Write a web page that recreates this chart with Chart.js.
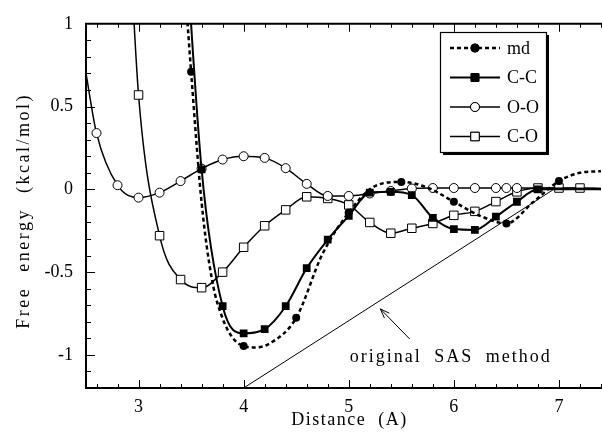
<!DOCTYPE html>
<html>
<head>
<meta charset="utf-8">
<script src="https://cdn.jsdelivr.net/npm/chart.js@4"></script>
<style>
  html, body { margin: 0; padding: 0; background: #fff; }
  #wrap { width: 602px; height: 432px; }
</style>
</head>
<body>
<div id="wrap"><canvas id="c"></canvas></div>
<script>
// tick labels
const xTicks = [3, 4, 5, 6, 7];
const yTicks = [-1, -0.5, 0, 0.5, 1];

// md (dashed, filled circles every 0.5 A)
const mdX = [3.4, 3.5, 3.6, 3.7, 3.8, 3.9, 4.0, 4.1, 4.25, 4.5, 4.75, 5.0, 5.25, 5.5, 5.75, 6.0, 6.25, 6.5, 6.75, 7.0, 7.2, 7.4];
const mdY = [1.6, 0.71, -0.08, -0.55, -0.78, -0.9, -0.947, -0.955, -0.93, -0.776, -0.39, -0.14, 0.02, 0.045, 0.01, -0.075, -0.16, -0.206, -0.08, 0.05, 0.1, 0.11];

// C-C (filled squares)
const ccX = [3.4, 3.6, 3.8, 4.0, 4.2, 4.4, 4.6, 4.8, 5.0, 5.2, 5.4, 5.6, 5.8, 6.0, 6.2, 6.4, 6.6, 6.8, 7.4];
const ccY = [2.0, 0.12, -0.706, -0.87, -0.845, -0.706, -0.476, -0.304, -0.16, -0.02, -0.015, -0.035, -0.172, -0.24, -0.245, -0.165, -0.075, 0.0, 0.0];

// O-O (open circles)
const ooX = [2.5, 2.6, 2.8, 3.0, 3.2, 3.4, 3.6, 3.8, 4.0, 4.2, 4.4, 4.6, 4.8, 5.0, 5.2, 5.4, 5.6, 5.8, 6.0, 6.2, 6.4, 6.5, 6.6, 7.4];
const ooY = [0.7, 0.34, 0.025, -0.05, -0.02, 0.05, 0.125, 0.18, 0.2, 0.19, 0.128, 0.033, -0.04, -0.04, -0.025, -0.01, 0.005, 0.008, 0.008, 0.008, 0.008, 0.008, 0.008, 0.005];

// C-O (open squares)
const coX = [2.9, 3.0, 3.2, 3.4, 3.6, 3.8, 4.0, 4.2, 4.4, 4.6, 4.8, 5.0, 5.2, 5.4, 5.6, 5.8, 6.0, 6.2, 6.4, 6.6, 6.8, 7.0, 7.2, 7.4];
const coY = [1.7, 0.57, -0.28, -0.545, -0.594, -0.5, -0.35, -0.22, -0.124, -0.045, -0.055, -0.094, -0.2, -0.265, -0.235, -0.206, -0.157, -0.133, -0.074, -0.015, 0.008, 0.008, 0.008, 0.005];

// original SAS method (straight line)
const sasX = [4.0, 6.95];
const sasY = [-1.2, 0];

// annotation: label + arrow pointing at the SAS line
const sasLabel = { text: 'original SAS method', x: 5.01, y: -1.04 };
const sasArrow = { fromX: 5.58, fromY: -0.904, toX: 5.3, toY: -0.722 };

const seriesNames = ['md', 'C-C', 'O-O', 'C-O'];

const SERIF = '"Liberation Serif", "DejaVu Serif", serif';

function pts(xs, ys) {
    return xs.map((x, i) => ({ x: x, y: ys[i] }));
}

// hide markers on the first/last helper points
function innerRadius(r) {
    return ctx => (ctx.dataIndex === 0 || ctx.dataIndex === ctx.dataset.data.length - 1) ? 0 : r;
}

const framePlugin = {
    id: 'frame',
    beforeDatasetsDraw(chart) {
        const { ctx, chartArea: a, scales } = chart;
        const xs = scales.x, ys = scales.y;
        ctx.save();
        ctx.strokeStyle = '#000';
        ctx.lineWidth = 2;
        ctx.beginPath();
        ctx.moveTo(a.left, a.top); ctx.lineTo(a.right + 2, a.top);
        ctx.moveTo(a.left, a.top - 1); ctx.lineTo(a.left, a.bottom + 1);
        ctx.moveTo(a.left, a.bottom); ctx.lineTo(a.right + 2, a.bottom);
        ctx.stroke();

        ctx.lineWidth = 1;
        ctx.beginPath();
        // x ticks (bottom and top), minor every 0.2
        for (let v = 2.6; v <= 7.41; v += 0.2) {
            const px = Math.round(xs.getPixelForValue(v)) + 0.5;
            const major = Math.abs(v - Math.round(v)) < 0.01;
            const len = major ? 8 : 4;
            ctx.moveTo(px, a.bottom); ctx.lineTo(px, a.bottom - len);
            ctx.moveTo(px, a.top); ctx.lineTo(px, a.top + len);
        }
        // y ticks, minor every 0.1
        for (let v = -1.1; v <= 0.95; v += 0.1) {
            const py = Math.round(ys.getPixelForValue(v)) + 0.5;
            const major = Math.abs(v * 2 - Math.round(v * 2)) < 0.01;
            const len = major ? 9 : 5;
            ctx.moveTo(a.left, py); ctx.lineTo(a.left + len, py);
        }
        ctx.stroke();

        // axis titles
        ctx.fillStyle = '#000';
        ctx.font = '18px ' + SERIF;
        ctx.letterSpacing = '1.5px';
        ctx.wordSpacing = '6px';
        ctx.textAlign = 'center';
        ctx.textBaseline = 'alphabetic';
        ctx.fillText('Distance (A)', (a.left + a.right) / 2 + 6, 425);
        ctx.save();
        ctx.translate(29, (a.top + a.bottom) / 2 + 5);
        ctx.rotate(-Math.PI / 2);
        ctx.letterSpacing = '2.5px';
        ctx.wordSpacing = '8px';
        ctx.fillText('Free energy (kcal/mol)', 0, 0);
        ctx.restore();
        ctx.restore();
    },
    afterDatasetsDraw(chart) {
        const { ctx, scales } = chart;
        const xs = scales.x, ys = scales.y;
        ctx.save();
        ctx.strokeStyle = '#000';
        ctx.fillStyle = '#000';

        // SAS annotation
        ctx.font = '18px ' + SERIF;
        ctx.letterSpacing = '2px';
        ctx.wordSpacing = '6px';
        ctx.textAlign = 'left';
        ctx.textBaseline = 'alphabetic';
        ctx.fillText(sasLabel.text, xs.getPixelForValue(sasLabel.x), ys.getPixelForValue(sasLabel.y));

        const fx = xs.getPixelForValue(sasArrow.fromX), fy = ys.getPixelForValue(sasArrow.fromY);
        const tx = xs.getPixelForValue(sasArrow.toX), ty = ys.getPixelForValue(sasArrow.toY);
        const ang = Math.atan2(ty - fy, tx - fx);
        ctx.lineWidth = 1;
        ctx.beginPath();
        ctx.moveTo(fx, fy); ctx.lineTo(tx, ty);
        ctx.moveTo(tx, ty); ctx.lineTo(tx - 10 * Math.cos(ang - 0.35), ty - 10 * Math.sin(ang - 0.35));
        ctx.moveTo(tx, ty); ctx.lineTo(tx - 10 * Math.cos(ang + 0.35), ty - 10 * Math.sin(ang + 0.35));
        ctx.stroke();

        // legend box with drop shadow
        const bx = 440, by = 32, bw = 106, bh = 120;
        ctx.fillRect(bx + 3, by + 3, bw, bh);
        ctx.fillStyle = '#fff';
        ctx.fillRect(bx, by, bw, bh);
        ctx.lineWidth = 1.2;
        ctx.strokeRect(bx + 0.5, by + 0.5, bw, bh);

        ctx.letterSpacing = '0px';
        ctx.wordSpacing = '0px';
        ctx.textBaseline = 'middle';
        chart.data.datasets.slice(0, 4).forEach((ds, i) => {
            const y = 48 + i * 29.5;
            ctx.save();
            ctx.strokeStyle = '#000';
            ctx.lineWidth = ds.borderWidth;
            ctx.setLineDash(ds.borderDash || []);
            ctx.beginPath();
            ctx.moveTo(450, y); ctx.lineTo(500, y);
            ctx.stroke();
            ctx.restore();
            Chart.helpers.drawPoint(ctx, {
                pointStyle: ds.pointStyle,
                radius: ds.legendRadius,
                rotation: 0,
                borderWidth: 1
            }, 475, y);
            ctx.fillStyle = ds.pointBackgroundColor;
            ctx.strokeStyle = '#000';
            ctx.lineWidth = 1;
            ctx.fill(); ctx.stroke();
            ctx.fillStyle = '#000';
            ctx.fillText(seriesNames[i], 507, y + 1);
        });
        ctx.restore();
    }
};

new Chart(document.getElementById('c'), {
    type: 'scatter',
    data: {
        datasets: [
            {
                label: 'md', data: pts(mdX, mdY), showLine: true,
                borderColor: '#000', borderWidth: 2.5, borderDash: [4, 3],
                pointStyle: 'circle', legendRadius: 4,
                pointRadius: ctx => (Number.isInteger(Math.round(ctx.raw.x * 100) / 50)) ? 4 : 0,
                pointBackgroundColor: '#000', pointBorderColor: '#000', pointBorderWidth: 0,
                cubicInterpolationMode: 'monotone'
            },
            {
                label: 'C-C', data: pts(ccX, ccY), showLine: true,
                borderColor: '#000', borderWidth: 2,
                pointStyle: 'rect', legendRadius: 5.5, pointRadius: innerRadius(5.5),
                pointBackgroundColor: '#000', pointBorderColor: '#000', pointBorderWidth: 0,
                cubicInterpolationMode: 'monotone'
            },
            {
                label: 'O-O', data: pts(ooX, ooY), showLine: true,
                borderColor: '#000', borderWidth: 1.5,
                pointStyle: 'circle', legendRadius: 4.5, pointRadius: innerRadius(4.5),
                pointBackgroundColor: '#fff', pointBorderColor: '#000', pointBorderWidth: 1,
                cubicInterpolationMode: 'monotone'
            },
            {
                label: 'C-O', data: pts(coX, coY), showLine: true,
                borderColor: '#000', borderWidth: 1.5,
                pointStyle: 'rect', legendRadius: 6, pointRadius: innerRadius(6),
                pointBackgroundColor: '#fff', pointBorderColor: '#000', pointBorderWidth: 1,
                cubicInterpolationMode: 'monotone'
            },
            {
                label: 'SAS', data: pts(sasX, sasY), showLine: true,
                borderColor: '#000', borderWidth: 1, pointRadius: 0, tension: 0
            }
        ]
    },
    options: {
        responsive: true,
        maintainAspectRatio: false,
        animation: false,
        devicePixelRatio: 1,
        layout: { padding: { top: 14, right: 1, left: 0, bottom: 0 } },
        plugins: {
            legend: { display: false },
            tooltip: { enabled: false }
        },
        scales: {
            x: {
                type: 'linear', min: 2.5, max: 7.4,
                grid: { display: false, drawTicks: false },
                border: { display: false },
                ticks: { color: '#000', font: { family: SERIF, size: 18 }, padding: 8, autoSkip: false, maxRotation: 0 },
                afterBuildTicks: s => { s.ticks = xTicks.map(v => ({ value: v })); },
                afterFit: s => { s.height = 44; }
            },
            y: {
                type: 'linear', min: -1.2, max: 1,
                grid: { display: false, drawTicks: false },
                border: { display: false },
                ticks: { color: '#000', font: { family: SERIF, size: 18 }, padding: 13, autoSkip: false, callback: v => String(v) },
                afterBuildTicks: s => { s.ticks = yTicks.map(v => ({ value: v })); },
                afterFit: s => { s.width = 86; }
            }
        }
    },
    plugins: [framePlugin]
});
</script>
</body>
</html>
